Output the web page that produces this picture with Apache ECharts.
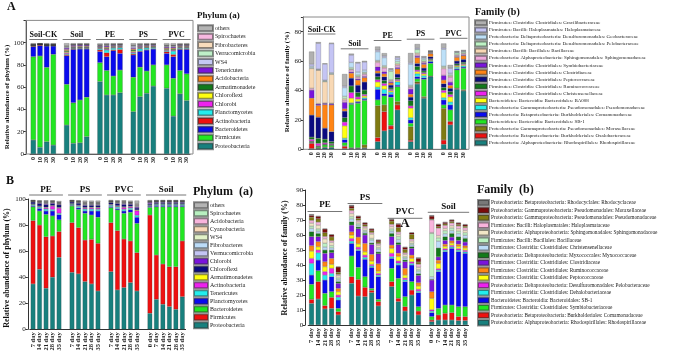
<!DOCTYPE html>
<html>
<head>
<meta charset="utf-8">
<script src="https://cdn.jsdelivr.net/npm/echarts@6.0.0/dist/echarts.min.js"></script>
<style>
html, body { margin: 0; background: #fff; }
#main { width: 680px; height: 354px; }
</style>
</head>
<body>
<div id="main"></div>
<script>
const SERIF = "'Times New Roman','Liberation Serif',serif"

// ---- panel A: soil incubation, days 0/10/20/30 ----
const aGroups = ['Soil-CK', 'Soil', 'PE', 'PS', 'PVC']
const aDays = ['0', '10', '20', '30']

// phylum (a), stacked bottom -> top
const phylumANames = ['Proteobacteria', 'Firmicutes', 'Bacteroidetes', 'Actinobacteria', 'Planctomycetes',
  'Chlorobi', 'Chloroflexi', 'Armatimonadete', 'Acidobacteria', 'Tenericutes', 'WS4',
  'Verrucomicrobia', 'Fibrobacteres', 'Spirochaetes', 'others']
const phylumAColors = ['#18807e', '#22e622', '#0a0aee', '#ee1010', '#22eeee', '#ee22ee', '#ffff10',
  '#127a1a', '#ff8414', '#7a14dc', '#c4c8f4', '#bff0c8', '#f8dcbc', '#f8b8e0', '#b4b4b4']
const phylumAValues = [
  [12.6, 6, 11, 8, 26, 9.6, 10, 15.6, 65, 53, 53, 55, 38, 51.5, 54.5, 61, 59, 34, 54, 48],
  [74.8, 82, 66.8, 81.5, 36.6, 36.4, 38.5, 35.4, 17, 22, 17, 20.4, 31, 26.5, 20, 19, 21, 34, 21, 24],
  [9, 9.3, 19.2, 7.5, 25.7, 48, 45.8, 43.3, 10, 12.4, 22.8, 15, 20, 14, 18.9, 14.3, 10.4, 19.4, 19, 22],
  [0.6, 0.8, 0.3, 0.3, 1, 0.5, 0.4, 0.4, 1.5, 3.5, 0.8, 3.5, 1, 0.5, 0.4, 0.4, 1.5, 2, 0.5, 0.5],
  [0.2, 0.1, 0.1, 0.1, 0.8, 0.5, 0.5, 0.5, 1, 2.5, 1.5, 1.5, 1, 2, 1.5, 1, 1, 3, 0.8, 0.8],
  [0.1, 0.1, 0.1, 0.1, 1, 0.3, 0.3, 0.3, 0.5, 0.8, 0.5, 0.5, 0.8, 0.5, 0.4, 0.3, 0.6, 0.8, 0.4, 0.4],
  [0.1, 0.1, 0.1, 0.1, 0.8, 0.3, 0.3, 0.3, 0.4, 0.5, 0.4, 0.4, 0.8, 0.4, 0.3, 0.3, 0.5, 0.6, 0.3, 0.3],
  [0.1, 0.1, 0.1, 0.1, 1, 0.4, 0.4, 0.4, 0.5, 0.6, 0.4, 0.4, 1, 0.5, 0.4, 0.4, 0.6, 0.7, 0.4, 0.4],
  [0.2, 0.1, 0.2, 0.2, 1, 0.6, 0.6, 0.6, 0.5, 0.8, 0.5, 0.5, 1, 0.6, 0.6, 0.5, 0.7, 0.8, 0.5, 0.5],
  [0.4, 0.2, 0.4, 0.4, 1.2, 1, 1, 1, 0.7, 1, 0.7, 0.6, 1, 0.8, 0.7, 0.7, 0.9, 1, 0.7, 0.7],
  [0.2, 0.1, 0.1, 0.1, 0.8, 0.4, 0.4, 0.4, 0.4, 0.6, 0.4, 0.4, 1.2, 0.5, 0.4, 0.4, 0.6, 0.6, 0.4, 0.4],
  [0.1, 0.05, 0.1, 0.1, 0.6, 0.2, 0.2, 0.2, 0.3, 0.3, 0.3, 0.2, 0.5, 0.3, 0.2, 0.2, 0.4, 0.4, 0.2, 0.2],
  [0.1, 0.05, 0.1, 0.1, 0.5, 0.2, 0.2, 0.2, 0.3, 0.3, 0.2, 0.2, 0.4, 0.2, 0.2, 0.2, 0.3, 0.3, 0.2, 0.2],
  [0.1, 0.05, 0.1, 0.1, 0.3, 0.1, 0.1, 0.1, 0.2, 0.2, 0.2, 0.1, 0.3, 0.2, 0.2, 0.1, 0.2, 0.2, 0.1, 0.1],
  [0.9, 0.45, 0.8, 0.8, 2.2, 1, 0.8, 0.8, 1, 1, 0.8, 0.8, 1.5, 1, 0.8, 0.7, 1.8, 1.7, 1, 1]
]

// family (b), stacked bottom -> top
const familyANames = [
  'Proteobacteria: Alphaproteobacteria: Rhodospirillales: Rhodospirillaceae',
  'Proteobacteria: Betaproteobacteria: Burkholderiales: Oxalobacteraceae',
  'Proteobacteria: Gammaproteobacteria: Pseudomonadales: Moraxellaceae',
  'Bacteroidetes: Bacteroidia: Bacteroidales: SB-1',
  'Proteobacteria: Betaproteobacteria: Burkholderiales: Comamonadaceae',
  'Proteobacteria: Gammaproteobacteria: Pseudomonadales: Pseudomonadaceae',
  'Bacteroidetes: Bacteroidia: Bacteroidales: BA008',
  'Firmicutes: Clostridia: Clostridiales: Christensenellaceae',
  'Firmicutes: Clostridia: Clostridiales: Ruminococcaceae',
  'Firmicutes: Clostridia: Clostridiales: Peptococcaceae',
  'Firmicutes: Clostridia: Clostridiales: Clostridiaceae',
  'Firmicutes: Clostridia: Clostridiales: Symbiobacteriaceae',
  'Proteobacteria: Alphaproteobacteria: Sphingomonadales: Sphingomonadaceae',
  'Firmicutes: Bacilli: Bacillales: Bacillaceae',
  'Proteobacteria: Deltaproteobacteria: Desulfuromonadales: Pelobacteraceae',
  'Proteobacteria: Deltaproteobacteria: Desulfuromonadales: Geobacteraceae',
  'Firmicutes: Bacilli: Haloplasmatales: Haloplasmataceae',
  'Firmicutes: Clostridia: Clostridiales: Gracilibacteraceae'
]
const familyAColors = ['#18807e', '#ee1010', '#7f7a12', '#22e622', '#0a0aee', '#22eeee', '#ffff10',
  '#ee22ee', '#127a1a', '#0a0a80', '#ff8414', '#7a14dc', '#eeaadd', '#f8d8b4', '#bdf2c4',
  '#bde0f8', '#c4c4f4', '#b0b0b0']
const familyAValues = [
  [0.5, 0.5, 1, 1, 0.5, 0.5, 0.5, 0.7, 5.2, 12.5, 13.6, 26.8, 5.2, 44.4, 34.7, 49.4, 3.4, 16.6, 40.8, 39.7],
  [3.5, 0.3, 0.3, 0.3, 1.5, 0.3, 0.3, 0.3, 2.8, 13.1, 2.3, 3.4, 1, 0.5, 0.3, 0.2, 2.9, 2.2, 0.3, 0.3],
  [0.3, 0.2, 0.2, 0.2, 0.5, 0.2, 0.2, 2, 21.7, 4.6, 0.5, 2.2, 9.2, 1, 0.8, 0.2, 21.6, 0.5, 0.5, 0.5],
  [0.5, 0.8, 1.5, 1.2, 2, 29.6, 30.3, 30.3, 3.9, 6.1, 19, 10.2, 2.3, 2, 11.8, 8.7, 2.3, 7.5, 12.4, 14.6],
  [0.3, 0.2, 0.2, 0.2, 2, 0.5, 0.8, 0.8, 7.2, 1.5, 2, 1, 2.3, 1.5, 1, 1.2, 3.4, 3.4, 0.8, 0.8],
  [0.2, 0.2, 0.2, 0.2, 1, 0.5, 0.5, 1, 1.5, 3, 1.5, 2.3, 1.5, 2, 1.5, 0.5, 1.5, 2, 1, 1],
  [0.3, 0.3, 0.2, 0.2, 8.5, 3.2, 1.5, 1.2, 3.5, 2.5, 1, 0.8, 6.5, 1.5, 1.2, 0.5, 3.5, 3.5, 0.8, 0.8],
  [1.2, 1.5, 0.8, 0.5, 2.5, 3.8, 1.5, 1, 1.5, 1.5, 0.8, 0.8, 1.5, 1, 0.8, 0.3, 1.5, 1.5, 0.5, 0.5],
  [1.5, 3.5, 2.5, 1.4, 3, 4.5, 3, 3, 2, 2, 1, 1.2, 3.5, 2.5, 1.2, 0.5, 2, 2, 1, 1],
  [15, 14.3, 7.5, 6.8, 4.5, 5.3, 5, 5.5, 2.5, 2.5, 2, 2.5, 2.5, 2, 2, 1.5, 2.5, 2.3, 2, 2],
  [11.5, 8, 16, 18.2, 1.5, 3.4, 3.5, 3, 1.5, 2, 1.5, 3.5, 2, 4, 2.5, 2, 2.5, 2, 2.5, 2.5],
  [5.5, 1, 0.8, 0.8, 4.5, 0.8, 0.8, 0.8, 2.8, 1.5, 0.8, 1, 3.5, 1, 0.8, 0.3, 3.2, 2.2, 0.5, 0.5],
  [1.2, 0.3, 0.3, 0.3, 1.5, 1.5, 1.2, 1.5, 3, 2.5, 0.8, 1.5, 1.2, 1, 0.8, 0.5, 4.6, 3.4, 0.8, 0.8],
  [13.5, 22.7, 14.5, 19.7, 1, 0.5, 0.5, 0.5, 0.8, 0.8, 0.5, 1, 0.5, 1, 0.5, 0.3, 0.8, 0.8, 0.5, 0.5],
  [0.5, 0.3, 0.5, 0.5, 1.5, 1, 1, 0.8, 0.5, 0.8, 5.8, 1.5, 0.8, 2.5, 1.2, 0.3, 0.8, 0.8, 1.2, 0.8],
  [1, 0.5, 0.5, 0.6, 6, 3.5, 2, 1.5, 6, 5.5, 1, 1.5, 14.5, 0.5, 1, 0.3, 11.5, 1, 0.5, 0.5],
  [1.5, 17.5, 11, 19.8, 1, 5, 6, 5.5, 1, 1, 0.5, 1.3, 1, 0.7, 0.5, 0.2, 1, 3.4, 0.3, 0.3],
  [8.5, 0.8, 0.5, 0.6, 8.2, 1, 0.8, 0.8, 2.5, 2, 0.5, 0.8, 6.5, 2.5, 0.8, 0.3, 3, 2.3, 0.5, 0.5]
]

// ---- panel B: 35-day time course ----
const bGroups = ['PE', 'PS', 'PVC', 'Soil']
const bDaysPlastic = ['7 day', '14 day', '21 day', '28 day', '35 day']
const bDaysSoil = ['0 day', '7 day', '14 day', '21 day', '28 day', '35 day']

const phylumBNames = ['Proteobacteria', 'Firmicutes', 'Bacteroidetes', 'Planctomycetes', 'Tenericutes',
  'Actinobacteria', 'Armatimonadetes', 'Chloroflexi', 'Chlorobi', 'Vermucomicrobia', 'Fibrobacteres',
  'WS4', 'Cyanobacteria', 'Acidobacteria', 'Spirochaetes', 'others']
const phylumBColors = ['#18807e', '#ee1010', '#22e622', '#0a0aee', '#22eeee', '#ee22ee', '#ffff10',
  '#0a0a80', '#7a14dc', '#c4c4f4', '#bcdcf8', '#e2f2c8', '#f8d8b8', '#f8b4dc', '#b8f0c0', '#b4b4b4']
const phylumBValues = [
  [34.8, 46, 31.5, 40, 55.2, 43.7, 42.5, 36.6, 34.8, 29.4, 44.2, 30.2, 32, 35.8, 29.4, 12.3, 23, 19.2, 17.4, 15.3, 25],
  [48.6, 34, 39.5, 31.6, 19.8, 38.1, 35.5, 31.9, 34.2, 36.6, 37.6, 45.5, 37.3, 32, 29.4, 75.4, 34, 30.9, 30.6, 32.7, 42.8],
  [10.7, 10.8, 17.2, 15.4, 9, 12.8, 14, 20.5, 18.7, 20, 11.6, 15.9, 19.7, 22, 22.5, 5.9, 37.1, 44, 46.1, 46.1, 26.3],
  [0.8, 2, 2.6, 3.8, 4, 0.5, 1.2, 1.8, 3.1, 4.8, 0.8, 1, 1.8, 2, 4.7, 0.8, 1, 1, 1, 1, 1],
  [0.8, 1, 1.5, 1.2, 1, 0.8, 1.2, 1.5, 1.5, 1.3, 1, 1.2, 1.3, 1.2, 1.5, 0.6, 0.8, 0.8, 0.8, 0.8, 0.8],
  [0.3, 0.5, 1, 2.6, 4, 0.3, 0.6, 0.8, 1, 1, 0.5, 0.6, 1.5, 1, 3.5, 0.3, 0.3, 0.3, 0.3, 0.3, 0.3],
  [0.2, 0.3, 0.4, 0.4, 0.5, 0.3, 0.3, 0.4, 0.4, 0.5, 0.3, 0.4, 0.4, 0.4, 0.6, 0.3, 0.2, 0.2, 0.2, 0.2, 0.2],
  [1.5, 2, 2, 1.5, 2, 1.2, 1.5, 1.5, 1.5, 1.5, 1.3, 1.6, 1.8, 1.5, 1.5, 0.8, 1, 1, 1, 1, 1],
  [0.3, 0.5, 0.7, 0.6, 0.5, 0.3, 0.4, 0.5, 0.5, 0.5, 0.3, 0.5, 0.6, 0.5, 0.8, 1, 0.5, 0.5, 0.5, 0.5, 0.5],
  [0.2, 0.3, 0.4, 0.3, 0.3, 0.2, 0.3, 0.4, 0.4, 0.4, 0.2, 0.3, 0.4, 0.3, 0.5, 0.2, 0.2, 0.2, 0.2, 0.2, 0.2],
  [0.2, 0.3, 0.4, 0.3, 0.3, 0.2, 0.3, 0.4, 0.4, 0.4, 0.2, 0.3, 0.4, 0.3, 0.5, 0.2, 0.2, 0.2, 0.2, 0.2, 0.2],
  [0.1, 0.2, 0.3, 0.2, 0.3, 0.1, 0.2, 0.3, 0.3, 0.3, 0.2, 0.3, 0.3, 0.2, 0.4, 0.2, 0.1, 0.1, 0.1, 0.1, 0.1],
  [0.1, 0.2, 0.3, 0.2, 0.3, 0.1, 0.2, 0.3, 0.3, 0.3, 0.2, 0.2, 0.3, 0.2, 0.4, 0.2, 0.1, 0.1, 0.1, 0.1, 0.1],
  [0.2, 0.3, 0.4, 0.3, 0.3, 0.2, 0.2, 0.4, 0.3, 0.3, 0.2, 0.3, 0.4, 0.3, 0.5, 0.3, 0.2, 0.2, 0.2, 0.2, 0.2],
  [0.1, 0.2, 0.3, 0.2, 0.2, 0.1, 0.2, 0.3, 0.2, 0.3, 0.2, 0.2, 0.3, 0.2, 0.4, 0.2, 0.1, 0.1, 0.1, 0.1, 0.1],
  [0.3, 0.4, 0.5, 0.4, 0.8, 0.3, 0.4, 1.2, 1.2, 1.2, 0.4, 0.5, 0.5, 0.9, 2.2, 0.5, 0.4, 0.4, 0.4, 0.4, 0.4]
]

const familyBNames = [
  'Proteobacteria: Alphaproteobacteria: Rhodospirillales: Rhodospirillaceae',
  'Proteobacteria: Betaproteobacteria: Burkholderiales: Comamonadaceae',
  'Firmicutes: Clostridia: Clostridiales: Symbiobacteriaceae',
  'Bacteroidetes: Bacteroidia: Bacteroidales: SB-1',
  'Firmicutes: Clostridia: Clostridiales: Dehalobacteriaceae',
  'Proteobacteria: Deltaproteobacteria: Desulfuromonadales: Pelobacteraceae',
  'Firmicutes: Clostridia: Clostridiales: Peptococcaceae',
  'Firmicutes: Clostridia: Clostridiales: Ruminococcaceae',
  'Firmicutes: Clostridia: Clostridiales: Clostridiaceae',
  'Proteobacteria: Deltaproteobacteria: Myxococcales: Myxococcaceae',
  'Firmicutes: Clostridia: Clostridiales: Christensenellaceae',
  'Firmicutes: Bacilli: Bacillales: Bacillaceae',
  'Proteobacteria: Alphaproteobacteria: Sphingomonadales: Sphingomonadaceae',
  'Firmicutes: Bacilli: Haloplasmatales: Haloplasmataceae',
  'Proteobacteria: Gammaproteobacteria: Pseudomonadales: Pseudomonadaceae',
  'Proteobacteria: Gammaproteobacteria: Pseudomonadales: Moraxellaceae',
  'Proteobacteria: Betaproteobacteria: Rhodocyclales: Rhodocyclaceae'
]
const familyBColors = ['#18807e', '#ee1010', '#22e622', '#0a0aee', '#22eeee', '#ee22ee', '#ffff10',
  '#ff8414', '#7a14dc', '#127a1a', '#bcdcf8', '#bdf2c4', '#f2e6c6', '#f8b4dc', '#807a12',
  '#7a0a0a', '#787878']
const familyBValues = [
  [14.4, 17.3, 10.7, 11.1, 6.7, 27.8, 19.3, 18.9, 21.6, 12.7, 25.6, 15.6, 9.3, 20, 6.7, 2.2, 3.3, 3.3, 3.3, 2.9, 2.9],
  [2.7, 11.6, 2.2, 7.3, 2.2, 4.4, 11.1, 6.2, 1.5, 2.9, 3.3, 2.2, 2.9, 3.3, 2.6, 1.1, 3.4, 4.5, 4.9, 2.7, 2.7],
  [10, 7.3, 8.2, 3.8, 2.2, 13.8, 8, 7.1, 1.3, 1.5, 8.9, 13.3, 6.7, 5.6, 2.9, 2.3, 4.4, 5.5, 5.1, 6.6, 6.6],
  [6.2, 7.1, 8.9, 10, 5.6, 8.4, 11.2, 11.6, 14, 15.1, 6.6, 8.9, 10, 11.1, 9.4, 2.6, 24.5, 35.6, 37.8, 36.7, 35.6],
  [7.8, 4.9, 3.3, 2.2, 1.8, 1.5, 0.8, 1.3, 1, 1, 1.2, 1.2, 1.2, 1, 1, 1, 1, 1, 1, 1, 1],
  [3.3, 1.8, 2.3, 3.4, 1.5, 1.8, 1.5, 1.5, 1, 1.2, 2.2, 1.5, 1.2, 1.2, 1.2, 1, 1, 1, 1, 1, 1],
  [4.9, 2.2, 3.3, 2.6, 2.2, 2.2, 2.2, 2.2, 2.2, 1.5, 3.3, 3, 2, 2.2, 2.2, 7.5, 3.4, 1.5, 1.5, 1.5, 1.5],
  [3.6, 3.4, 3.3, 4, 2.2, 2.2, 4.5, 5.6, 4.5, 4.9, 2.2, 2.2, 4.5, 2.2, 2.2, 4.5, 2.2, 1.5, 1.5, 1.5, 1.5],
  [6, 3.3, 5.6, 3.8, 3.4, 4.5, 5.6, 5.6, 6.6, 6.7, 5.6, 5.6, 4.4, 4.5, 4.9, 7.8, 2.2, 2.5, 2.5, 2.5, 2.5],
  [3.3, 2.2, 2.2, 1.8, 1.2, 2.2, 1.2, 1.2, 1, 1.2, 2.2, 1.5, 1.2, 1.2, 1.2, 0.5, 6, 2.5, 2.5, 2.5, 2.5],
  [2.2, 1.5, 2, 1.5, 1.2, 2, 1.2, 1, 2, 2, 1.5, 2, 1.2, 1.2, 1.7, 1.7, 4.5, 2, 1.8, 2, 2],
  [1.5, 1.5, 2.5, 1.5, 1.2, 1.5, 1, 1, 1, 1, 1.5, 2, 1, 1, 1, 28.9, 2.2, 2, 1.8, 1.8, 1.8],
  [2, 2.5, 3, 2, 1.5, 2, 1.2, 1.5, 2.9, 1.5, 1.5, 1.5, 1.5, 1.5, 1.5, 0.5, 1.5, 1.5, 1.5, 1.5, 1.5],
  [1.8, 2, 1.5, 1.2, 0.8, 2, 1, 1, 1, 1, 1.5, 1.5, 1, 1.2, 2, 8.5, 5, 2, 1.8, 1.8, 1.8],
  [2.2, 2.2, 2.5, 2.5, 1.5, 1.5, 1.2, 1.2, 1.2, 1.2, 2.2, 3, 2.2, 3.3, 1.5, 0.5, 1, 1, 1, 1, 1],
  [1.2, 1.6, 2.5, 1.5, 3.5, 1.5, 1.5, 1.2, 1.2, 1.2, 1, 2.2, 1.5, 1, 2.5, 2, 1.5, 1, 1, 1, 1],
  [0.8, 0.3, 0.3, 0.2, 0.3, 0.8, 0.3, 0.3, 0.3, 0.3, 0.5, 0.5, 0.3, 0.3, 0.5, 0.6, 0.3, 0.3, 0.3, 0.3, 0.3]
]

// categories with one blank slot between treatment groups
function buildCats (groupDays) {
  const cats = []
  const idx = []
  groupDays.forEach((days, g) => {
    if (g > 0) cats.push('')
    idx.push(days.map(d => { cats.push(d); return cats.length - 1 }))
  })
  return { cats, idx }
}
function spread (vals, idx, n) {
  const out = new Array(n).fill('-')
  let k = 0
  idx.forEach(ids => ids.forEach(i => { out[i] = vals[k++] }))
  return out
}

const panels = [
  {
    key: 'Aa', names: phylumANames, colors: phylumAColors, values: phylumAValues,
    groups: aGroups, days: aGroups.map(() => aDays),
    grid: { left: 30, top: 20.4, width: 160, height: 133.6 }, yOffset: 4,
    max: 120, interval: 20, labelMax: 100, barWidth: 5.3, xFont: 6, frame: [26, 20.4, 167, 133.6],
    labelY: [35, 35, 35, 35, 35], lineY: [39.5, 39.5, 39.5, 39.5, 39.5], groupFont: 8,
    yName: 'Relative abundance of phylum (%)', yNameX: 7, yNameY: 97, yNameFont: 7,
    legend: { left: 197, top: 24, itemWidth: 15, itemHeight: 6, step: 8.43, fontSize: 6 }
  },
  {
    key: 'Ab', names: familyANames, colors: familyAColors, values: familyAValues,
    groups: aGroups, days: aGroups.map(() => aDays),
    grid: { left: 308.4, top: 17, width: 158.4, height: 132.3 }, yOffset: 5,
    max: 90, interval: 20, labelMax: 80, barWidth: 5.3, xFont: 6, frame: [303.3, 17, 165.7, 132.3],
    labelY: [29.5, 44, 35.5, 34, 33.5], lineY: [34, 48.8, 40.5, 39.2, 38.3], groupFont: 8,
    yName: 'Relative abundance of family (%)', yNameX: 287, yNameY: 82, yNameFont: 7,
    legend: { left: 474, top: 19.3, itemWidth: 12, itemHeight: 5, step: 7.06, fontSize: 5 }
  },
  {
    key: 'Ba', names: phylumBNames, colors: phylumBColors, values: phylumBValues,
    groups: bGroups, days: [bDaysPlastic, bDaysPlastic, bDaysPlastic, bDaysSoil],
    grid: { left: 29.8, top: 199, width: 155.8, height: 130.3 }, yOffset: 2,
    max: 100, interval: 20, labelMax: 100, barWidth: 4.7, xFont: 6.5, frame: null,
    labelY: [189.5, 189.5, 189.5, 189.5], lineY: [195, 195, 195, 195], groupFont: 9,
    yName: 'Relative abundance of phylum (%)', yNameX: 7, yNameY: 268, yNameFont: 8,
    legend: { left: 193, top: 201.3, itemWidth: 14, itemHeight: 6, step: 8, fontSize: 6 }
  },
  {
    key: 'Bb', names: familyBNames, colors: familyBColors, values: familyBValues,
    groups: bGroups, days: [bDaysPlastic, bDaysPlastic, bDaysPlastic, bDaysSoil],
    grid: { left: 308.2, top: 190, width: 160.3, height: 135 }, yOffset: 3,
    max: 90, interval: 10, labelMax: 90, barWidth: 5, xFont: 6.5, frame: null,
    labelY: [205, 197.5, 211.5, 206.5], lineY: [211.5, 203.5, 218.3, 212.3], groupFont: 9,
    yName: 'Relative abundance of family (%)', yNameX: 285, yNameY: 258, yNameFont: 8,
    legend: { left: 477, top: 199, itemWidth: 11, itemHeight: 5.5, step: 7.5, fontSize: 5.3 }
  }
]

const grids = []
const xAxes = []
const yAxes = []
const series = []
const legends = []

panels.forEach((p, k) => {
  const { cats, idx } = buildCats(p.days)
  p.idx = idx
  grids.push(p.grid)
  xAxes.push({
    gridIndex: k, type: 'category', data: cats,
    axisLine: { lineStyle: { color: '#333', width: 1 } },
    axisTick: { show: false },
    axisLabel: { interval: 0, rotate: 90, fontFamily: SERIF, fontWeight: 'bold', fontSize: p.xFont, color: '#222', margin: 3 }
  })
  yAxes.push({
    gridIndex: k, type: 'value', min: 0, max: p.max, interval: p.interval, offset: p.yOffset,
    axisLine: { show: true, lineStyle: { color: '#333', width: 1 } },
    axisTick: { show: true, length: 2.5, lineStyle: { color: '#333' } },
    splitLine: { show: false },
    axisLabel: {
      fontFamily: SERIF, fontSize: 7, color: '#222', margin: 2,
      formatter: v => (v <= p.labelMax && v % p.interval === 0 ? v : '')
    }
  })
  p.names.forEach((name, i) => {
    series.push({
      type: 'bar', name: p.key + '|' + name, stack: p.key,
      xAxisIndex: k, yAxisIndex: k, barWidth: p.barWidth,
      itemStyle: { color: p.colors[i], borderColor: 'rgba(50,50,50,0.55)', borderWidth: 0.4 },
      data: spread(p.values[i], idx, cats.length)
    })
  })
  // rich text keeps every legend row exactly one step tall
  const L = p.legend
  legends.push({
    orient: 'vertical', left: L.left, top: L.top, padding: 0,
    itemWidth: L.itemWidth, itemHeight: L.itemHeight, itemGap: 0,
    icon: 'rect', selectedMode: false,
    data: p.names.slice().reverse().map(n => p.key + '|' + n),
    formatter: n => '{t|' + n.slice(n.indexOf('|') + 1) + '}',
    textStyle: {
      padding: [0, 0, 0, -3],
      rich: { t: { fontFamily: SERIF, fontSize: L.fontSize, lineHeight: L.step, height: L.step, color: '#222' } }
    }
  })
})

const titleStyle = (size) => ({ fontFamily: SERIF, fontWeight: 'bold', fontSize: size, color: '#111' })
const titles = [
  { text: 'A', left: 7, top: 1, padding: 0, textStyle: titleStyle(12) },
  { text: 'B', left: 6, top: 175, padding: 0, textStyle: titleStyle(12) },
  { text: 'Phylum (a)', left: 197, top: 11, padding: 0, textStyle: titleStyle(9) },
  { text: 'Family (b)', left: 475, top: 7, padding: 0, textStyle: titleStyle(10) },
  { text: 'Phylum  (a)', left: 193, top: 186, padding: 0, textStyle: titleStyle(12) },
  { text: 'Family  (b)', left: 477, top: 184, padding: 0, textStyle: titleStyle(12) }
]

const chart = echarts.init(document.getElementById('main'), null, { renderer: 'canvas' })
chart.setOption({
  animation: false,
  backgroundColor: '#fff',
  title: titles,
  grid: grids,
  xAxis: xAxes,
  yAxis: yAxes,
  legend: legends,
  series: series
})

// group captions, underlines, axis names and frames
const graphics = []
panels.forEach((p, k) => {
  if (p.frame) {
    graphics.push({
      type: 'rect', silent: true, z: 1,
      shape: { x: p.frame[0], y: p.frame[1], width: p.frame[2], height: p.frame[3] },
      style: { fill: 'none', stroke: '#8a8a8a', lineWidth: 1 }
    })
  }
  graphics.push({
    type: 'text', x: p.yNameX, y: p.yNameY, rotation: Math.PI / 2, silent: true,
    style: { text: p.yName, font: 'bold ' + p.yNameFont + 'px ' + SERIF, fill: '#111', textAlign: 'center', textVerticalAlign: 'middle', align: 'center', verticalAlign: 'middle' }
  })
  p.groups.forEach((g, j) => {
    const ids = p.idx[j]
    const x0 = chart.convertToPixel({ xAxisIndex: k }, ids[0])
    const x1 = chart.convertToPixel({ xAxisIndex: k }, ids[ids.length - 1])
    const slot = chart.convertToPixel({ xAxisIndex: k }, ids[0] + 1) - x0
    graphics.push({
      type: 'line', silent: true,
      shape: { x1: x0 - slot * 0.6, y1: p.lineY[j], x2: x1 + slot * 0.6, y2: p.lineY[j] },
      style: { stroke: '#777', lineWidth: 1 }
    })
    graphics.push({
      type: 'text', silent: true, x: (x0 + x1) / 2, y: p.labelY[j],
      style: { text: g, font: 'bold ' + p.groupFont + 'px ' + SERIF, fill: '#111', textAlign: 'center', textVerticalAlign: 'middle', align: 'center', verticalAlign: 'middle' }
    })
  })
})
// significance letter above the PVC bars of panel B (b)
const pvcIds = panels[3].idx[2]
graphics.push({
  type: 'text', silent: true, z: 10,
  x: chart.convertToPixel({ xAxisIndex: 3 }, pvcIds[2]),
  y: 223.5,
  style: { text: 'A', font: 'bold 13px ' + SERIF, fill: '#111', textAlign: 'center', textVerticalAlign: 'middle', align: 'center', verticalAlign: 'middle' }
})
chart.setOption({ graphic: graphics })
</script>
</body>
</html>
